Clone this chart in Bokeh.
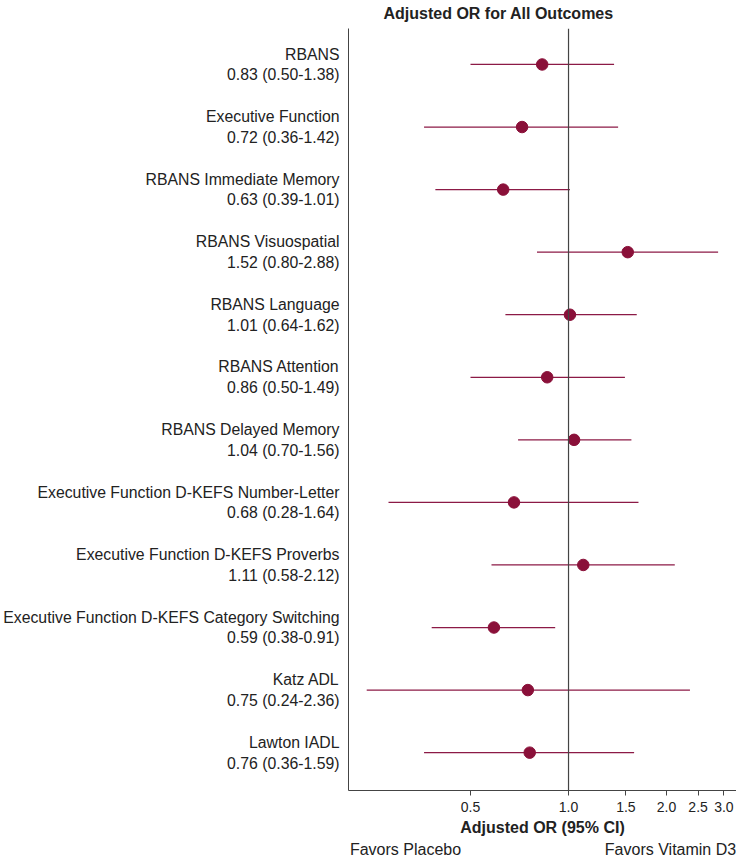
from bokeh.plotting import figure
from bokeh.models import Range1d, FixedTicker, PrintfTickFormatter, Span, ColumnDataSource, LinearAxis, LinearScale
from bokeh.embed import file_html
from bokeh.resources import INLINE

names = ["RBANS", "Executive Function", "RBANS Immediate Memory", "RBANS Visuospatial",
         "RBANS Language", "RBANS Attention", "RBANS Delayed Memory",
         "Executive Function D-KEFS Number-Letter", "Executive Function D-KEFS Proverbs",
         "Executive Function D-KEFS Category Switching", "Katz ADL", "Lawton IADL"]
or_vals = [0.83, 0.72, 0.63, 1.52, 1.01, 0.86, 1.04, 0.68, 1.11, 0.59, 0.75, 0.76]
ci_low = [0.50, 0.36, 0.39, 0.80, 0.64, 0.50, 0.70, 0.28, 0.58, 0.38, 0.24, 0.36]
ci_high = [1.38, 1.42, 1.01, 2.88, 1.62, 1.49, 1.56, 1.64, 2.12, 0.91, 2.36, 1.59]
x_ticks = [0.5, 1.0, 1.5, 2.0, 2.5, 3.0]
favor_texts = ["Favors Placebo", "Favors Vitamin D3"]

n = len(names)
rows = [n - i for i in range(n)]

FONT = "Liberation Sans"
MAROON = "#8a1039"
LINE = "#8c1a46"
TXT = "#222222"
AX = "#444444"

p = figure(width=736, height=862, x_axis_type="log", output_backend="svg",
           toolbar_location=None, x_range=Range1d(0.211, 3.28), y_range=Range1d(0.395, 12.575),
           min_border_left=348, min_border_right=0, min_border_top=28, min_border_bottom=72)
p.outline_line_color = None
p.xgrid.grid_line_color = None
p.ygrid.grid_line_color = None
p.background_fill_color = "white"
p.border_fill_color = "white"

p.title.text = "Adjusted OR for All Outcomes"
p.title.align = "left"
p.title.offset = 35
p.title.vertical_align = "top"
p.title.text_font = FONT
p.title.text_font_size = "16px"
p.title.text_font_style = "bold"
p.title.text_color = TXT
p.title.standoff = 9

src = ColumnDataSource(dict(y=rows, orv=or_vals, lo=ci_low, hi=ci_high))
p.segment(x0="lo", x1="hi", y0="y", y1="y", source=src, line_color=LINE, line_width=1.3)
p.scatter(x="orv", y="y", source=src, size=11.5, fill_color=MAROON, line_color=MAROON)

p.add_layout(Span(location=1.0, dimension="height", line_color=AX, line_width=1.2))

xa = p.xaxis[0]
xa.ticker = FixedTicker(ticks=x_ticks, minor_ticks=[])
xa.formatter = PrintfTickFormatter(format="%.1f")
xa.axis_line_color = AX
xa.major_tick_line_color = AX
xa.major_tick_out = 5
xa.major_tick_in = 0
xa.minor_tick_line_color = None
xa.major_label_text_font = FONT
xa.major_label_text_font_size = "14px"
xa.major_label_text_color = TXT
xa.major_label_standoff = 6
xa.axis_label = "Adjusted OR (95% CI)"
xa.axis_label_text_font = FONT
xa.axis_label_text_font_size = "16px"
xa.axis_label_text_font_style = "bold"
xa.axis_label_text_color = TXT
xa.axis_label_standoff = 4

ya = p.yaxis[0]
ya.ticker = FixedTicker(ticks=rows, minor_ticks=[])
ya.major_label_overrides = {r: f"{nm}\n{o:.2f} ({l:.2f}-{h:.2f})"
                            for r, nm, o, l, h in zip(rows, names, or_vals, ci_low, ci_high)}
ya.axis_line_color = AX
ya.major_tick_line_color = None
ya.major_tick_out = 0
ya.major_tick_in = 0
ya.minor_tick_line_color = None
ya.major_label_text_font = FONT
ya.major_label_text_font_size = "15.8px"
ya.major_label_text_color = TXT
ya.major_label_text_line_height = 1.22
ya.major_label_standoff = 9

# bottom "favors" captions as an extra, line-less axis
p.extra_x_ranges = {"fav": Range1d(0, 388)}
p.extra_x_scales = {"fav": LinearScale()}
fav_axis = LinearAxis(x_range_name="fav", ticker=FixedTicker(ticks=[57, 322], minor_ticks=[]),
                      major_label_overrides={57: favor_texts[0], 322: favor_texts[1]})
fav_axis.axis_line_color = None
fav_axis.major_tick_line_color = None
fav_axis.minor_tick_line_color = None
fav_axis.major_tick_out = 0
fav_axis.major_tick_in = 0
fav_axis.major_label_text_font = FONT
fav_axis.major_label_text_font_size = "16px"
fav_axis.major_label_text_color = TXT
fav_axis.major_label_standoff = 2
p.add_layout(fav_axis, "below")

open("out.html", "w").write(file_html(p, INLINE))
